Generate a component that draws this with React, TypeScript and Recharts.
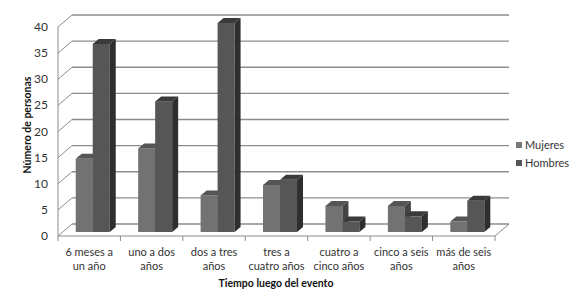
import React from "react";
import { BarChart, Bar, XAxis, YAxis, CartesianGrid } from "recharts";

// categories, split into the two lines used on the x axis
const categoryLines = [
  ["6 meses a", "un año"],
  ["uno a dos", "años"],
  ["dos a tres", "años"],
  ["tres a", "cuatro años"],
  ["cuatro a", "cinco años"],
  ["cinco a seis", "años"],
  ["más de seis", "años"],
];
const categories = categoryLines.map((l) => l.join(" "));

const mujeres = [14, 16, 7, 9, 5, 5, 2];
const hombres = [36, 25, 40, 10, 2, 3, 6];

const yTicks = [0, 5, 10, 15, 20, 25, 30, 35, 40];

const chartData = categories.map((name, i) => ({
  name,
  mujeres: mujeres[i],
  hombres: hombres[i],
}));

const FONT = "Lato, 'Open Sans', sans-serif";
const WALL_DX = 14;
const WALL_DY = 12;
const PLOT_LEFT = 58;
const PLOT_RIGHT = 495;
const PLOT_BOTTOM = 236;
const BAND = (PLOT_RIGHT - PLOT_LEFT) / categories.length;

const makeBar3D = (front: string, top: string, side: string) => (props: any) => {
  const { x, y, width, height } = props;
  if (height == null || height <= 0) return <g />;
  const bx = x + 4;
  const by = y - 4;
  const d = 6;
  const dy = 5;
  return (
    <g>
      <rect x={bx} y={by} width={width} height={height} fill={front} />
      <polygon
        points={`${bx},${by} ${bx + d},${by - dy} ${bx + width + d},${by - dy} ${bx + width},${by}`}
        fill={top}
      />
      <polygon
        points={`${bx + width},${by} ${bx + width + d},${by - dy} ${bx + width + d},${by + height - dy} ${bx + width},${by + height}`}
        fill={side}
      />
    </g>
  );
};

const MujeresBar = makeBar3D("#727272", "#555555", "#444444");
const HombresBar = makeBar3D("#565656", "#3a3a3a", "#2e2e2e");

const gridLine = (props: any) => {
  const { x1, y1, x2 } = props;
  const isFloor = Math.abs(y1 - PLOT_BOTTOM) < 1;
  return (
    <g key={`g-${y1}`}>
      <line x1={x1} y1={y1} x2={x1 + WALL_DX} y2={y1 - WALL_DY} stroke="#8c8c8c" />
      <line
        x1={x1 + WALL_DX}
        y1={y1 - WALL_DY}
        x2={x2 + WALL_DX}
        y2={y1 - WALL_DY}
        stroke="#8c8c8c"
        strokeWidth={1.3}
      />
      {isFloor && (
        <line x1={x2} y1={y1} x2={x2 + WALL_DX} y2={y1 - WALL_DY} stroke="#8c8c8c" />
      )}
    </g>
  );
};

const YTick = (props: any) => {
  const { y, payload } = props;
  return (
    <text x={48} y={y + 4} textAnchor="end" fontSize={12} fill="#333" fontFamily={FONT}>
      {payload.value}
    </text>
  );
};

const XTick = (props: any) => {
  const { x, y, index } = props;
  const lines = categoryLines[index] || [];
  const isLast = index === categories.length - 1;
  return (
    <g>
      <line x1={x - BAND / 2} y1={PLOT_BOTTOM} x2={x - BAND / 2} y2={PLOT_BOTTOM + 5} stroke="#8c8c8c" />
      {isLast && (
        <line x1={x + BAND / 2} y1={PLOT_BOTTOM} x2={x + BAND / 2} y2={PLOT_BOTTOM + 5} stroke="#8c8c8c" />
      )}
      <text textAnchor="middle" fontSize={11} fill="#333" fontFamily={FONT}>
        {lines.map((l, i) => (
          <tspan key={i} x={x} y={PLOT_BOTTOM + 20 + i * 14}>
            {l}
          </tspan>
        ))}
      </text>
    </g>
  );
};

const legendItems = [
  { label: "Mujeres", color: "#777777", top: 138 },
  { label: "Hombres", color: "#555555", top: 156 },
];

export default function App() {
  return (
    <div style={{ position: "absolute", left: 0, top: 0, width: 580, height: 297, background: "#fff", fontFamily: FONT }}>
      <BarChart
        width={580}
        height={297}
        data={chartData}
        margin={{ top: 27, right: 85, bottom: 0, left: 0 }}
        barCategoryGap="22%"
        barGap={0}
      >
        <CartesianGrid vertical={false} horizontal={gridLine} />
        <XAxis
          dataKey="name"
          height={61}
          interval={0}
          tickLine={false}
          axisLine={{ stroke: "#8c8c8c" }}
          tick={<XTick />}
        />
        <YAxis
          width={58}
          domain={[0, 40]}
          ticks={yTicks}
          interval={0}
          tickLine={false}
          axisLine={{ stroke: "#8c8c8c" }}
          tick={<YTick />}
        />
        <Bar dataKey="mujeres" name="Mujeres" fill="#727272" shape={MujeresBar} isAnimationActive={false} />
        <Bar dataKey="hombres" name="Hombres" fill="#565656" shape={HombresBar} isAnimationActive={false} />
        <text
          transform="translate(31,125) rotate(-90)"
          textAnchor="middle"
          fontSize={10.5}
          fontWeight="bold"
          fill="#111"
          fontFamily={FONT}
        >
          Número de personas
        </text>
        <text x={276} y={287} textAnchor="middle" fontSize={10.5} fontWeight="bold" fill="#111" fontFamily={FONT}>
          Tiempo luego del evento
        </text>
      </BarChart>
      {legendItems.map((item) => (
        <div
          key={item.label}
          style={{
            position: "absolute",
            left: 516,
            top: item.top,
            fontSize: 11,
            color: "#333",
            display: "flex",
            alignItems: "center",
            lineHeight: "14px",
          }}
        >
          <span style={{ width: 6, height: 6, background: item.color, marginRight: 3, display: "inline-block" }} />
          {item.label}
        </div>
      ))}
    </div>
  );
}
